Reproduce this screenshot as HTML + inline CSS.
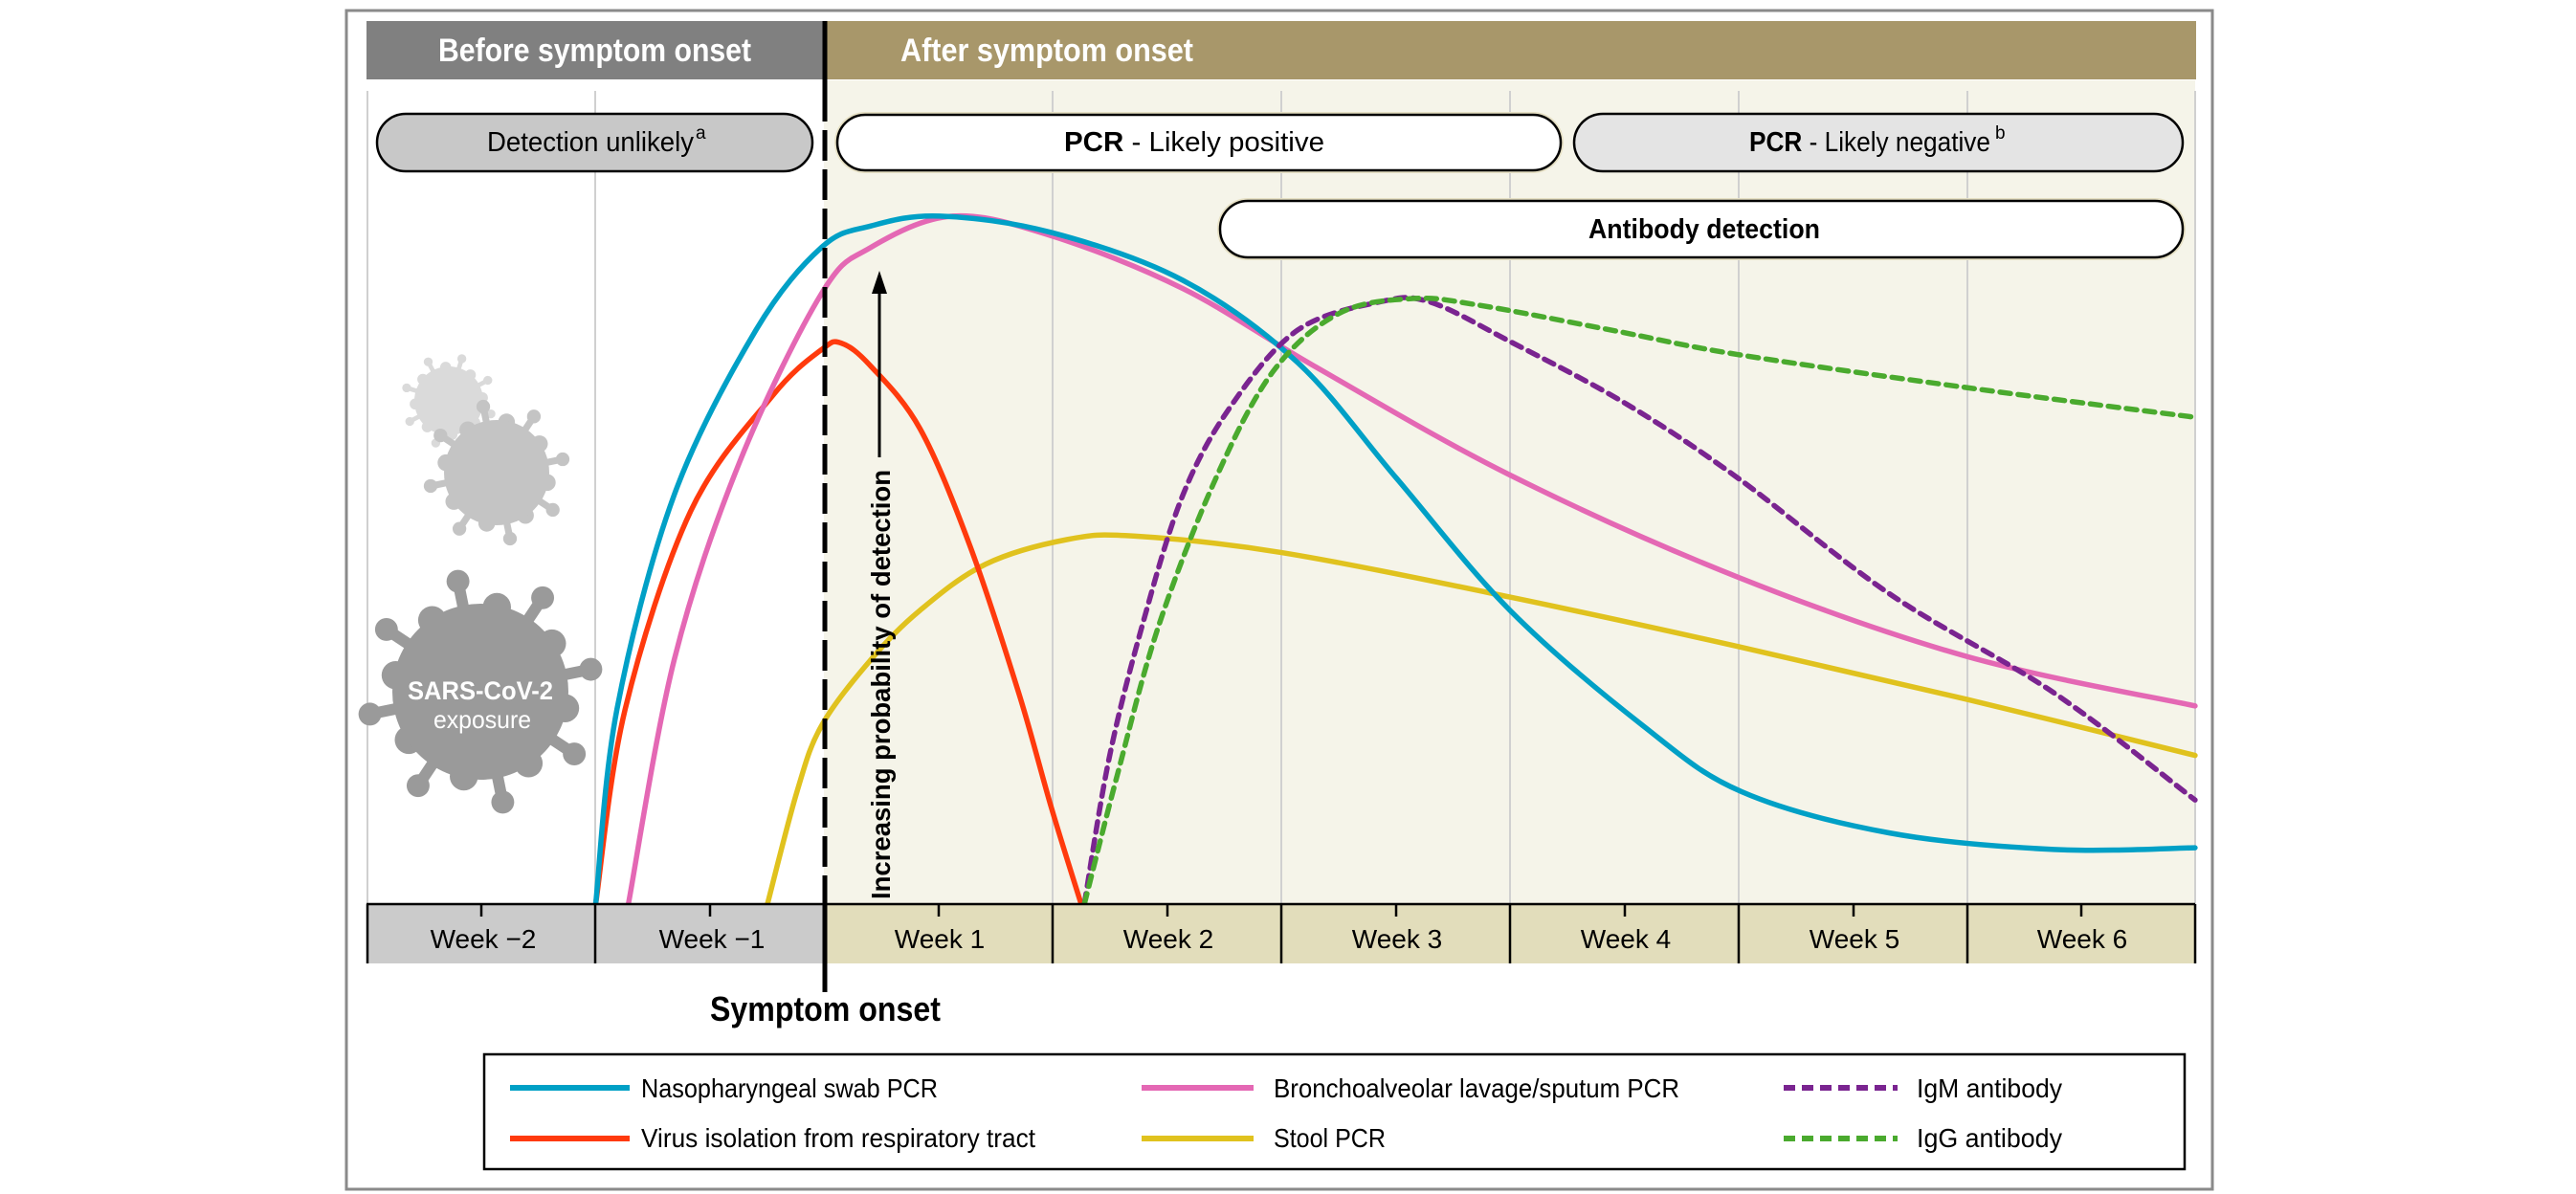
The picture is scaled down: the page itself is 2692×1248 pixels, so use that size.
<!DOCTYPE html>
<html><head><meta charset="utf-8"><style>
html,body{margin:0;padding:0;background:#fff;}
svg{display:block;font-family:"Liberation Sans Narrow","Liberation Sans",sans-serif;}
</style></head><body>
<svg id="s" width="2692" height="1248" viewBox="0 0 2692 1248" xmlns="http://www.w3.org/2000/svg">
<rect x="362" y="11" width="1950" height="1232" fill="#fff" stroke="#8a8a8a" stroke-width="3"/>
<rect x="861" y="84" width="1433" height="861" fill="#f5f4e9"/>
<g stroke="#d0d0d0" stroke-width="2">
<line x1="384" y1="95" x2="384" y2="945"/><line x1="622" y1="95" x2="622" y2="945"/>
<line x1="1100" y1="95" x2="1100" y2="945"/><line x1="1339" y1="95" x2="1339" y2="945"/>
<line x1="1578" y1="95" x2="1578" y2="945"/><line x1="1817" y1="95" x2="1817" y2="945"/>
<line x1="2056" y1="95" x2="2056" y2="945"/><line x1="2294" y1="95" x2="2294" y2="945"/>
</g>
<rect x="383" y="22" width="479" height="61" fill="#808080"/>
<rect x="862" y="22" width="1433" height="61" fill="#a8976a"/>
<text x="458" y="64" font-size="34" font-weight="bold" fill="#fff" textLength="327" lengthAdjust="spacingAndGlyphs">Before symptom onset</text>
<text x="941" y="64" font-size="34" font-weight="bold" fill="#fff" textLength="306" lengthAdjust="spacingAndGlyphs">After symptom onset</text>
<rect x="394" y="119" width="455" height="60" rx="30" fill="#c8c8c8" stroke="#000" stroke-width="2.5"/>
<text x="509" y="158" font-size="29" fill="#000" textLength="216" lengthAdjust="spacingAndGlyphs">Detection unlikely</text>
<text x="727" y="145" font-size="19" fill="#000">a</text>
<rect x="872" y="117" width="762" height="64" rx="32" fill="#e6e0c4"/>
<rect x="875" y="120" width="756" height="58" rx="29" fill="#fff" stroke="#000" stroke-width="2.5"/>
<text x="1112" y="158" font-size="29" fill="#000" textLength="272" lengthAdjust="spacingAndGlyphs"><tspan font-weight="bold">PCR</tspan> - Likely positive</text>
<rect x="1645" y="119" width="636" height="60" rx="30" fill="#e4e4e4" stroke="#000" stroke-width="2.5"/>
<text x="1828" y="158" font-size="29" fill="#000" textLength="252" lengthAdjust="spacingAndGlyphs"><tspan font-weight="bold">PCR</tspan> - Likely negative</text>
<text x="2085" y="145" font-size="19" fill="#000">b</text>
<rect x="1272" y="207" width="1012" height="65" rx="32" fill="#e6e0c4"/>
<rect x="1275" y="210" width="1006" height="59" rx="29" fill="#fff" stroke="#000" stroke-width="2.5"/>
<text x="1660" y="249" font-size="29" font-weight="bold" fill="#000" textLength="242" lengthAdjust="spacingAndGlyphs">Antibody detection</text>
<g id="vir"></g>
<text x="426" y="731" font-size="27" font-weight="bold" fill="#fff" textLength="152" lengthAdjust="spacingAndGlyphs">SARS-CoV-2</text>
<text x="453" y="761" font-size="26" fill="#fff" textLength="102" lengthAdjust="spacingAndGlyphs">exposure</text>
<g id="curves" fill="none" stroke-linecap="round"></g>
<line x1="919" y1="478" x2="919" y2="305" stroke="#000" stroke-width="3"/>
<polygon points="919,283 911,307 927,307" fill="#000"/>
<text transform="translate(930,940) rotate(-90)" font-size="28" font-weight="bold" fill="#000" textLength="449" lengthAdjust="spacingAndGlyphs">Increasing probability of detection</text>
<rect x="383" y="945" width="479" height="62" fill="#cbcbcb"/>
<rect x="862" y="945" width="1432" height="62" fill="#e2ddbb"/>
<g stroke="#000" stroke-width="2.5">
<line x1="383" y1="945" x2="2294" y2="945"/>
<line x1="384" y1="945" x2="384" y2="1007"/><line x1="622" y1="945" x2="622" y2="1007"/>
<line x1="1100" y1="945" x2="1100" y2="1007"/><line x1="1339" y1="945" x2="1339" y2="1007"/>
<line x1="1578" y1="945" x2="1578" y2="1007"/><line x1="1817" y1="945" x2="1817" y2="1007"/>
<line x1="2056" y1="945" x2="2056" y2="1007"/><line x1="2294" y1="945" x2="2294" y2="1007"/>
<line x1="503" y1="945" x2="503" y2="958"/><line x1="742" y1="945" x2="742" y2="958"/>
<line x1="981" y1="945" x2="981" y2="958"/><line x1="1220" y1="945" x2="1220" y2="958"/>
<line x1="1459" y1="945" x2="1459" y2="958"/><line x1="1698" y1="945" x2="1698" y2="958"/>
<line x1="1937" y1="945" x2="1937" y2="958"/><line x1="2175" y1="945" x2="2175" y2="958"/>
</g>
<g font-size="28" fill="#000" text-anchor="middle">
<text x="505" y="991">Week −2</text><text x="744" y="991">Week −1</text>
<text x="982" y="991">Week 1</text><text x="1221" y="991">Week 2</text>
<text x="1460" y="991">Week 3</text><text x="1699" y="991">Week 4</text>
<text x="1938" y="991">Week 5</text><text x="2176" y="991">Week 6</text>
</g>
<line x1="862" y1="22" x2="862" y2="95" stroke="#000" stroke-width="5"/>
<line x1="862" y1="95" x2="862" y2="945" stroke="#000" stroke-width="5" stroke-dasharray="32 9"/>
<line x1="862" y1="940" x2="862" y2="1037" stroke="#000" stroke-width="5"/>
<text x="742" y="1067" font-size="36" font-weight="bold" fill="#000" textLength="241" lengthAdjust="spacingAndGlyphs">Symptom onset</text>
<rect x="506" y="1102" width="1777" height="120" fill="#fff" stroke="#000" stroke-width="2.5"/>
<g stroke-width="6">
<line x1="533" y1="1137" x2="658" y2="1137" stroke="#00a0c6"/>
<line x1="533" y1="1190" x2="658" y2="1190" stroke="#ff3a0d"/>
<line x1="1193" y1="1137" x2="1310" y2="1137" stroke="#e468b4"/>
<line x1="1193" y1="1190" x2="1310" y2="1190" stroke="#e0c21e"/>
<line x1="1864" y1="1137" x2="1983" y2="1137" stroke="#7a2490" stroke-dasharray="12 7"/>
<line x1="1864" y1="1190" x2="1983" y2="1190" stroke="#4aaa2e" stroke-dasharray="12 7"/>
</g>
<g font-size="28" fill="#000">
<text x="670" y="1147" textLength="310" lengthAdjust="spacingAndGlyphs">Nasopharyngeal swab PCR</text>
<text x="670" y="1199" textLength="412" lengthAdjust="spacingAndGlyphs">Virus isolation from respiratory tract</text>
<text x="1331" y="1147" textLength="424" lengthAdjust="spacingAndGlyphs">Bronchoalveolar lavage/sputum PCR</text>
<text x="1331" y="1199" textLength="117" lengthAdjust="spacingAndGlyphs">Stool PCR</text>
<text x="2003" y="1147" textLength="152" lengthAdjust="spacingAndGlyphs">IgM antibody</text>
<text x="2003" y="1199" textLength="152" lengthAdjust="spacingAndGlyphs">IgG antibody</text>
</g>
</svg>
<script>
(function(){
var NS="http://www.w3.org/2000/svg",KX=1.717,K=1.724;
function cr(p){var d="M"+p[0][0]+","+p[0][1];for(var i=0;i<p.length-1;i++){var p0=p[i-1]||p[i],p1=p[i],p2=p[i+1],p3=p[i+2]||p2;
d+=" C"+(p1[0]+(p2[0]-p0[0])/6)+","+(p1[1]+(p2[1]-p0[1])/6)+" "+(p2[0]-(p3[0]-p1[0])/6)+","+(p2[1]-(p3[1]-p1[1])/6)+" "+p2[0]+","+p2[1];}return d;}
function add(pts,col,dash){var p=pts.map(function(q){return [q[0]*KX+(q[0]<=500?(500-q[0])*0.007:0),q[1]*K]});var e=document.createElementNS(NS,"path");
e.setAttribute("d",cr(p));e.setAttribute("stroke",col);e.setAttribute("stroke-width","5.5");if(dash)e.setAttribute("stroke-dasharray","11 8");
document.getElementById("curves").appendChild(e);}
add([[467,548],[485,480],[500,440],[530,400],[560,370],[600,342],[650,327],[690,325],[780,335],[919,362],[1058,392],[1197,424],[1336,458]],"#e0c21e");
add([[362,548],[380,430],[420,310],[470,240],[500,212],[512,208],[530,222],[560,260],[590,330],[620,420],[640,490],[658,548]],"#ff3a0d");
add([[382,548],[410,400],[450,280],[500,178],[530,150],[580,131],[640,143],[720,175],[800,222],[919,288],[1058,350],[1197,398],[1336,428]],"#e468b4");
add([[362,548],[375,430],[410,300],[460,200],[500,150],[530,137],[572,131],[640,141],[720,170],[790,220],[850,290],[919,370],[1000,440],[1060,480],[1150,505],[1250,515],[1336,514]],"#00a0c6");
add([[660,548],[675,460],[695,380],[720,300],[750,245],[790,200],[840,183],[870,183],[919,207],[990,245],[1058,290],[1150,360],[1250,420],[1336,485]],"#7a2490",1);
add([[660,548],[680,470],[705,380],[740,290],[775,225],[815,190],[860,181],[900,185],[980,200],[1058,215],[1197,235],[1336,253]],"#4aaa2e",1);
function virus(cx,cy,r,col,n,rot){var g=document.getElementById("vir");
for(var i=0;i<n;i++){var a=rot+i*2*Math.PI/n;var l=document.createElementNS(NS,"line");
l.setAttribute("x1",cx);l.setAttribute("y1",cy);l.setAttribute("x2",cx+Math.cos(a)*r*1.22);l.setAttribute("y2",cy+Math.sin(a)*r*1.22);
l.setAttribute("stroke",col);l.setAttribute("stroke-width",r*0.13);g.appendChild(l);
var c=document.createElementNS(NS,"circle");c.setAttribute("cx",cx+Math.cos(a)*r*1.28);c.setAttribute("cy",cy+Math.sin(a)*r*1.28);c.setAttribute("r",r*0.13);c.setAttribute("fill",col);g.appendChild(c);
var b=a+Math.PI/n;var c2=document.createElementNS(NS,"circle");c2.setAttribute("cx",cx+Math.cos(b)*r*0.98);c2.setAttribute("cy",cy+Math.sin(b)*r*0.98);c2.setAttribute("r",r*0.16);c2.setAttribute("fill",col);g.appendChild(c2);}
var c=document.createElementNS(NS,"circle");c.setAttribute("cx",cx);c.setAttribute("cy",cy);c.setAttribute("r",r);c.setAttribute("fill",col);g.appendChild(c);}
virus(469,419,36,"#dadada",8,0.3);
virus(519,494,55,"#c4c4c4",8,-0.2);
virus(502,723,92,"#9a9a9a",8,-0.2);
})();
</script>
</body></html>
